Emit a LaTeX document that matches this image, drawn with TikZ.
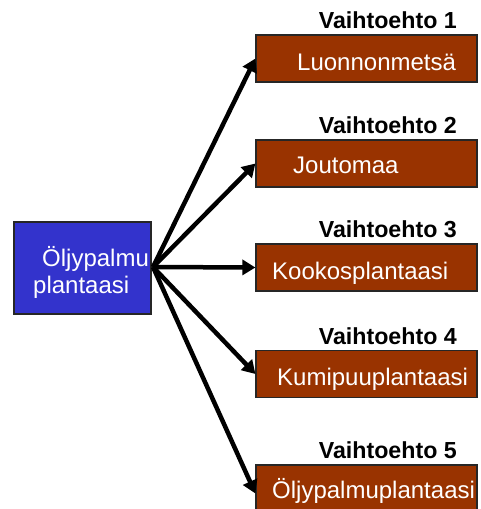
\documentclass[tikz,border=0pt]{standalone}
\usepackage{fontspec}
\setmainfont{Liberation Sans}
\usetikzlibrary{arrows.meta}
\definecolor{srcblue}{HTML}{3333CC}
\definecolor{altbrown}{HTML}{993300}
\tikzset{
  srcbox/.style={draw=black!85, line width=1.2pt, fill=srcblue, minimum width=137pt, minimum height=92pt, inner sep=0pt},
  altbox/.style={draw=black!85, line width=1.2pt, fill=altbrown, minimum width=221pt, minimum height=47pt, inner sep=0pt},
  boxtext/.style={text=white, font=\fontsize{24pt}{28pt}\selectfont, inner sep=0pt, anchor=base west},
  alttitle/.style={text=black, font=\bfseries\fontsize{23.2pt}{27pt}\selectfont, inner sep=0pt, anchor=base east},
  conn/.style={line width=4.5pt, -{Triangle[length=13pt,width=15pt]}}
}
\begin{document}
\begin{tikzpicture}[x=1pt,y=-1pt]
\useasboundingbox (0,0) rectangle (481,509);
% source
\node[srcbox] (src) at (82.5,268) {};
\node[boxtext] (srct1) at (42,266) {Öljypalmu};
\node[boxtext] (srct2) at (33,293) {plantaasi};
\coordinate (hub) at (153,267);
% alternatives
\node[altbox] (a1) at (366.5,58.5) {};
\node[altbox] (a2) at (366.5,163.5) {};
\node[altbox] (a3) at (366.5,267.5) {};
\node[altbox] (a4) at (366.5,374) {};
\node[altbox] (a5) at (366.5,488.5) {};
\node[boxtext] (t1) at (297,70) {Luonnonmetsä};
\node[boxtext] (t2) at (293,173) {Joutomaa};
\node[boxtext] (t3) at (272,279) {Kookosplantaasi};
\node[boxtext] (t4) at (277,385) {Kumipuuplantaasi};
\node[boxtext] (t5) at (272,498) {Öljypalmuplantaasi};
\node[alttitle] (v1) at (457,28) {Vaihtoehto 1};
\node[alttitle] (v2) at (457,133) {Vaihtoehto 2};
\node[alttitle] (v3) at (457,237) {Vaihtoehto 3};
\node[alttitle] (v4) at (457,344) {Vaihtoehto 4};
\node[alttitle] (v5) at (457,458) {Vaihtoehto 5};
% connectors
\draw[conn] (hub) -- (a1.west);
\draw[conn] (hub) -- (a2.west);
\draw[conn] (hub) -- (a3.west);
\draw[conn] (hub) -- (a4.west);
\draw[conn] (hub) -- ([yshift=-5pt]a5.west);
\end{tikzpicture}
\end{document}
